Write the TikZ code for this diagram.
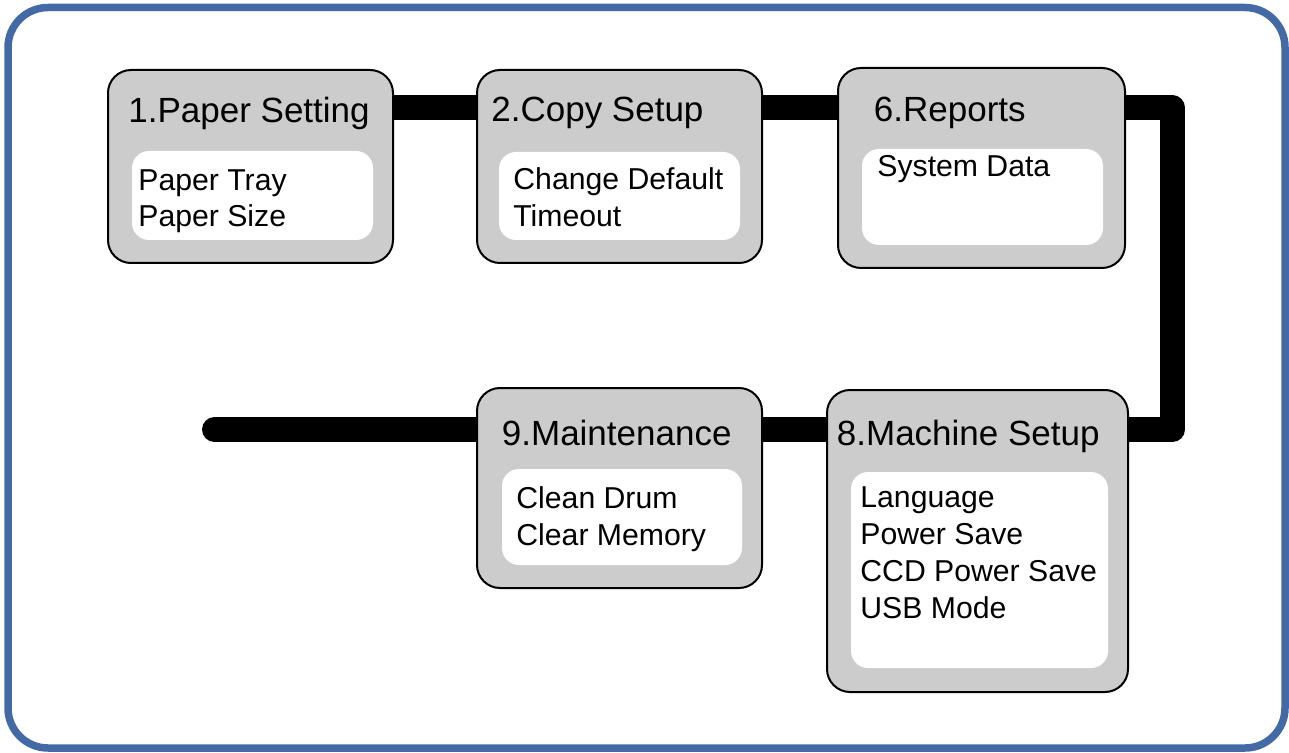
\documentclass[tikz,border=0pt]{standalone}
\usepackage{fontspec}
\setmainfont{Liberation Sans}
\usepackage{tikz}

\definecolor{frameblue}{RGB}{68,106,166}
\definecolor{boxgray}{RGB}{204,204,204}
\pgfdeclarelayer{background}
\pgfsetlayers{background,main}

\begin{document}
\begin{tikzpicture}[x=0.5pt,y=-0.5pt,
    menu/.style={rectangle,draw,line width=1pt,fill=boxgray,rounded corners=11.5pt,inner sep=0pt},
    panel/.style={rectangle,fill=white,rounded corners=8.5pt,inner sep=0pt},
    title/.style={anchor=base west,inner sep=0pt,font=\fontsize{17.5}{21}\selectfont},
    items/.style={anchor=north west,inner sep=0pt,align=left,font=\fontsize{15.1}{18.4}\selectfont},
    bar/.style={line width=12.5pt,line join=round},
    frame/.style={draw=frameblue,line width=3.75pt,rounded corners=20pt}]

  \useasboundingbox (0,0) rectangle (1289,753);
  \draw[frame] (8,7.5) rectangle (1285,748);

  % menu boxes
  \node[menu,minimum width=142.5pt,minimum height=96.5pt] (m1) at (250.5,166.5) {};
  \node[menu,minimum width=142.5pt,minimum height=96.5pt] (m2) at (619.5,166.5) {};
  \node[menu,minimum width=143.5pt,minimum height=100pt] (m6) at (981.5,168) {};
  \node[menu,minimum width=142.5pt,minimum height=100pt] (m9) at (619.5,488) {};
  \node[menu,minimum width=150.5pt,minimum height=151pt] (m8) at (977.5,541) {};

  \node[panel,minimum width=120.5pt,minimum height=44.5pt] (p1) at (252.5,195.5) {};
  \node[panel,minimum width=120.5pt,minimum height=44pt] (p2) at (619.5,196) {};
  \node[panel,minimum width=120.5pt,minimum height=48pt] (p6) at (982.5,197) {};
  \node[panel,minimum width=120pt,minimum height=48pt] (p9) at (622,517) {};
  \node[panel,minimum width=128.5pt,minimum height=98pt] (p8) at (979.5,570) {};

  \node[title] (t1) at (128,123) {1.Paper Setting};
  \node[title] (t2) at (491,122) {2.Copy Setup};
  \node[title] (t6) at (873.5,122) {6.Reports};
  \node[title] (t9) at (501.5,445) {9.Maintenance};
  \node[title] (t8) at (836.5,445) {8.Machine Setup};

  \node[items] (s1) at (138,169) {Paper Tray\\Paper Size};
  \node[items] (s2) at (513,167) {Change Default\\Timeout};
  \node[items] (s6) at (877,155) {System Data};
  \node[items] (s9) at (516,486) {Clean Drum\\Clear Memory};
  \node[items,font=\fontsize{15.1}{18.6}\selectfont] (s8) at (860,486)
       {Language\\Power Save\\CCD Power Save\\USB Mode};

  % thick links, behind the boxes
  \coordinate (bendA) at (1172.5,108);
  \coordinate (bendB) at (1172.5,429.5);
  \coordinate (tail) at (214.5,429.5);

  \begin{pgfonlayer}{background}
    \draw[bar] (m1.center |- bendA) -- (m2.center |- bendA);
    \draw[bar] (m2.center |- bendA) -- (m6.center |- bendA);
    \draw[bar] (m6.center |- bendA) -- (bendA) -- (bendB) -- (m8.center |- bendB);
    \draw[bar] (m8.center |- bendB) -- (m9.center |- bendB);
    \draw[bar,line cap=round] (m9.center |- bendB) -- (tail);
  \end{pgfonlayer}

\end{tikzpicture}
\end{document}
